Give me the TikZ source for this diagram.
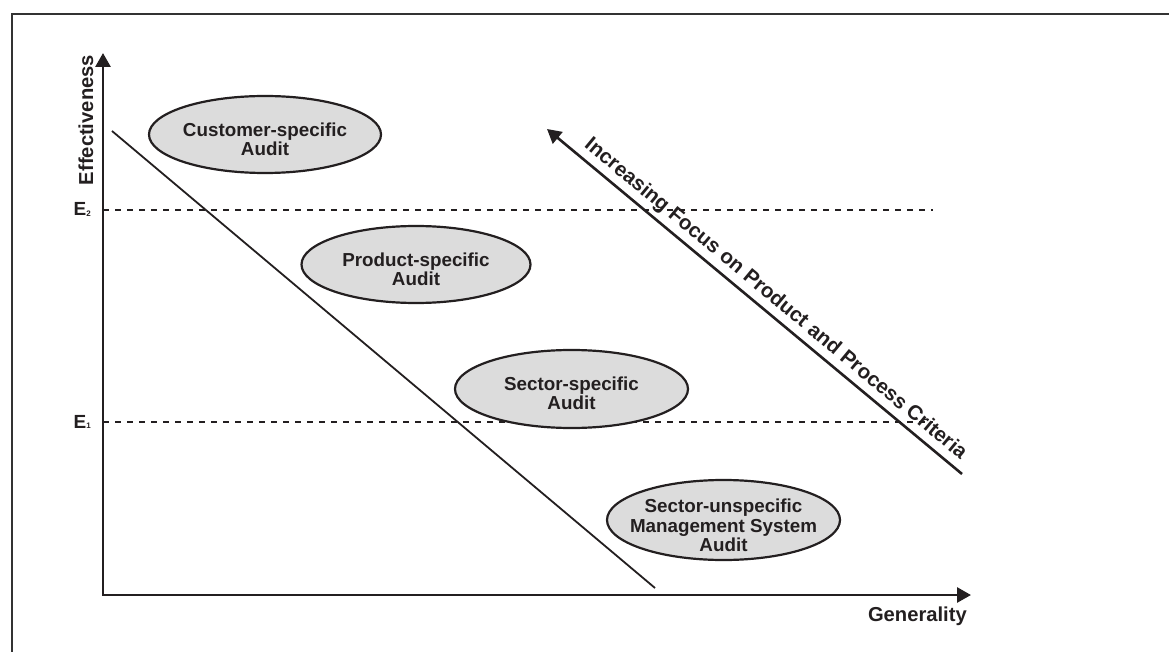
\documentclass[tikz,border=0pt]{standalone}
\usepackage{fontspec}
\setmainfont{Liberation Sans}
\usetikzlibrary{shapes.geometric,arrows.meta}
\definecolor{ink}{HTML}{231F20}
\definecolor{framegray}{HTML}{333333}
\definecolor{auditfill}{HTML}{DCDCDC}
\begin{document}
\begin{tikzpicture}[x=1pt,y=-1pt,
  axis/.style={line width=2.8pt, draw=ink, -{Triangle[length=14pt,width=15pt]}},
  level/.style={line width=2.3pt, draw=ink, dash pattern=on 6pt off 6pt},
  border/.style={line width=2.2pt, draw=framegray},
  boundary/.style={line width=1.8pt, draw=ink},
  audit/.style={ellipse, draw=ink, line width=2.2pt, fill=auditfill,
    minimum width=232pt, minimum height=77pt, inner sep=0pt},
  audittext/.style={align=center, text=ink, inner sep=0pt,
    font=\fontsize{18.8}{19.5}\selectfont\bfseries},
  lbl/.style={text=ink, inner sep=0pt, font=\fontsize{19}{20}\selectfont\bfseries}
]
\useasboundingbox (0,0) rectangle (1169,652);

% frame
\coordinate (fbl) at (12,652);
\coordinate (ftl) at (12,14);
\coordinate (ftr) at (1169,14);
\draw[border] (fbl) -- (ftl) -- (ftr);

% axes
\coordinate (O) at (103,595);
\coordinate (ytip) at (103,53);
\coordinate (xtip) at (971,595);
\draw[axis, line cap=rect] (O) -- (ytip);
\draw[axis, line cap=rect] (O) -- (xtip);
\node[lbl, rotate=90, anchor=base, font=\fontsize{20.2}{21}\selectfont\bfseries] (ylab) at (93,120) {Effectiveness};
\node[lbl, anchor=base east, font=\fontsize{20.2}{21}\selectfont\bfseries] (xlab) at (967,621) {Generality};

% effectiveness levels
\coordinate (E2a) at (103,210);
\coordinate (E2b) at (933,210);
\coordinate (E1a) at (103,422);
\coordinate (E1b) at (933,422);
\draw[level] (E2a) -- (E2b);
\draw[level] (E1a) -- (E1b);
\node[lbl, anchor=base east] (E2) at (91,216) {E\raisebox{-0.5pt}{\fontsize{8}{8}\selectfont 2}};
\node[lbl, anchor=base east] (E1) at (91,428) {E\raisebox{-0.5pt}{\fontsize{8}{8}\selectfont 1}};

% boundary line
\coordinate (ba) at (112,131);
\coordinate (bb) at (655,588);
\draw[boundary] (ba) -- (bb);

% audit types
\node[audit] (cust) at (265,134.5) {};
\node[audittext] (custt) at (265,139.5) {Customer-specific\\Audit};
\node[audit, minimum width=229pt] (prod) at (416,264.5) {};
\node[audittext] (prodt) at (416,269.5) {Product-specific\\Audit};
\node[audit, minimum width=233pt, minimum height=78pt] (sect) at (571.5,389) {};
\node[audittext] (sectt) at (571.5,393.5) {Sector-specific\\Audit};
\node[audit, minimum width=233pt, minimum height=80pt] (msys) at (723.5,520) {};
\node[audittext] (msyst) at (723.5,525.5) {Sector-unspecific\\Management System\\Audit};

% focus arrow
\coordinate (fa) at (962,474);
\coordinate (fb) at (547,129);
\draw[axis, line width=2.6pt] (fa) -- (fb);
\node[lbl, rotate=-39.74, anchor=base, font=\fontsize{20.6}{21}\selectfont\bfseries] (focus) at (772,303.5)
  {Increasing Focus on Product and Process Criteria};
\end{tikzpicture}
\end{document}
